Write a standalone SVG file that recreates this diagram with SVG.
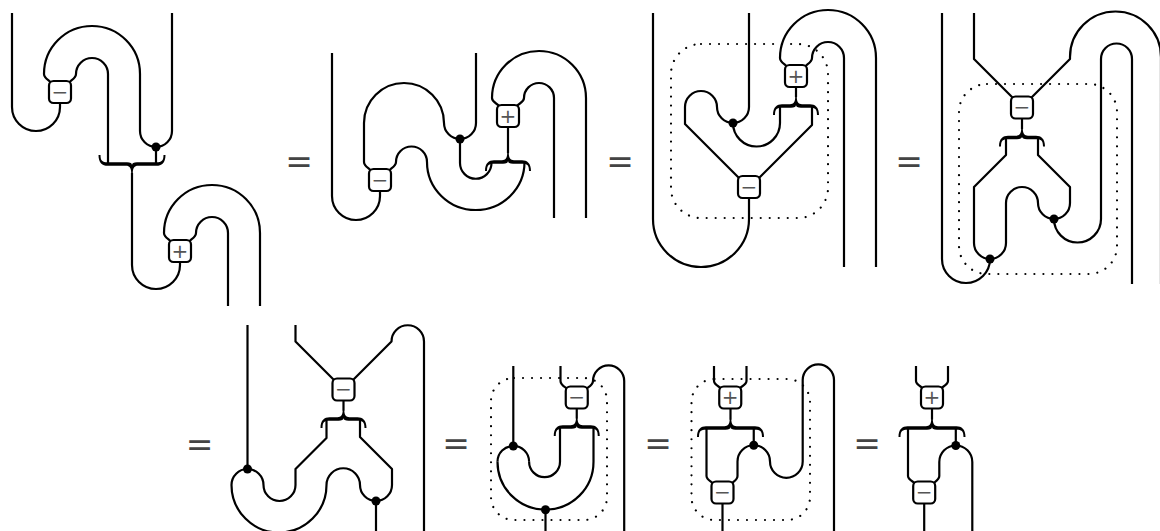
<svg xmlns="http://www.w3.org/2000/svg" xmlns:xlink="http://www.w3.org/1999/xlink" width="1160" height="531" viewBox="0 0 1160 531">
<style>
.w{fill:none;stroke:#000;stroke-width:2.2;stroke-linejoin:round}
.box{fill:#fff;stroke:#000;stroke-width:2.2}
.sym{font-family:"DejaVu Sans",sans-serif;font-size:20px;fill:#555;text-anchor:middle}
.eq{font-family:"DejaVu Sans",sans-serif;font-size:33px;fill:#444;text-anchor:middle}
.dot{fill:#000}
.br{fill:#000}
.frame{fill:none;stroke:#000;stroke-width:2.2;stroke-dasharray:0.01 9;stroke-linecap:round}
</style>
<defs>
<path id="braceW" class="br" d="M -33.5,9 C -33.5,1 -29.5,-1.8 -24.5,-1.8 L -6,-1.8 C -2.5,-1.8 -0.8,-4 -0.8,-9 L 0.8,-9 C 0.8,-4 2.5,-1.8 6,-1.8 L 24.5,-1.8 C 29.5,-1.8 33.5,1 33.5,9 L 31.5,9 C 31.5,3 29.5,1.8 24.5,1.8 L 5,1.8 Q 0,1.8 0,-1 Q 0,1.8 -5,1.8 L -24.5,1.8 C -29.5,1.8 -31.5,3 -31.5,9 Z"/>
<path id="braceN" class="br" d="M -23,9 C -23,1 -19,-1.8 -14,-1.8 L -6,-1.8 C -2.5,-1.8 -0.8,-4 -0.8,-9 L 0.8,-9 C 0.8,-4 2.5,-1.8 6,-1.8 L 14,-1.8 C 19,-1.8 23,1 23,9 L 21,9 C 21,3 19,1.8 14,1.8 L 5,1.8 Q 0,1.8 0,-1 Q 0,1.8 -5,1.8 L -14,1.8 C -19,1.8 -21,3 -21,9 Z"/>
</defs>
<rect width="1160" height="531" fill="#fff"/>

<g id="frames">
<rect class="frame" x="671" y="44" width="157" height="174" rx="30"/>
<rect class="frame" x="959" y="84" width="158" height="190" rx="28"/>
<rect class="frame" x="491" y="378" width="116" height="142" rx="23"/>
<rect class="frame" x="691.5" y="379" width="118.5" height="141" rx="23"/>
</g>

<g id="connectors">
<!-- diagram 1 -->
<path class="w" d="M 12 13 V 107 A 24 24 0 0 0 60 107 V 100"/>
<path class="w" d="M 53 85 C 50 80 44 79 44 74 A 48 48 0 0 1 140 74 V 131 A 16 16 0 0 0 172 131 V 13"/>
<path class="w" d="M 67 85 C 70 80 76 79 76 74 A 16 16 0 0 1 108 74 V 164"/>
<path class="w" d="M 156 147 V 164"/>
<path class="w" d="M 132 173 V 265 A 24 24 0 0 0 180 265 V 258"/>
<path class="w" d="M 173 244 C 170 239 164 238 164 233 A 48 48 0 0 1 260 233 V 306"/>
<path class="w" d="M 187 244 C 190 239 196 238 196 233 A 16 16 0 0 1 228 233 V 306"/>
<!-- diagram 2 -->
<path class="w" d="M 332 53 V 196 A 24 24 0 0 0 380 196 V 188"/>
<path class="w" d="M 373 173 C 370 168 364 167 364 162 V 123 A 40 40 0 0 1 444 123 A 16 16 0 0 0 476 123 V 53"/>
<path class="w" d="M 387 173 C 390 168 396 167 396 162 A 15.5 15.5 0 0 1 427 162 A 48.75 48 0 0 0 524.5 162"/>
<path class="w" d="M 460 139 V 163 A 15.75 15.75 0 0 0 491.5 163 V 162"/>
<path class="w" d="M 508 153 V 124"/>
<path class="w" d="M 501 108 C 498 103 492 103 492 98 A 47 47 0 0 1 586 98 V 218"/>
<path class="w" d="M 515 108 C 518 103 524 103 524 98 A 15 15 0 0 1 554 98 V 218"/>
<!-- diagram 3 -->
<path class="w" d="M 653 13 V 219 A 48 48 0 0 0 749 219 V 195"/>
<path class="w" d="M 743 182 L 685 124 V 107 A 16 16 0 0 1 717 107 A 16 16 0 0 0 749 107 V 13"/>
<path class="w" d="M 733 123 A 23.5 23.5 0 0 0 780 123 V 106"/>
<path class="w" d="M 755 182 L 812 125 V 106"/>
<path class="w" d="M 796 97 V 84"/>
<path class="w" d="M 789 69 C 786 64 780 63 780 58 A 48 48 0 0 1 876 58 V 267"/>
<path class="w" d="M 803 69 C 806 64 812 63 812 58 A 16 16 0 0 1 844 58 V 267"/>
<!-- diagram 4 -->
<path class="w" d="M 942 13 V 259 A 24 24 0 0 0 990 259"/>
<path class="w" d="M 1006 137.5 V 155 L 974 187 V 243 A 16 16 0 0 0 1006 243 V 203 A 16 16 0 0 1 1038 203 A 16 16 0 0 0 1070 203 V 187 L 1038 155 V 137.5"/>
<path class="w" d="M 1054 219 A 23.5 23.5 0 0 0 1101 219 V 59 A 15.5 15.5 0 0 1 1132 59 V 284"/>
<path class="w" d="M 1022 129 V 116"/>
<path class="w" d="M 1017 102 L 974 59 V 13"/>
<path class="w" d="M 1027 102 L 1070 59 V 57 A 45.5 45.5 0 0 1 1161 57 V 284"/>
<!-- diagram 5 -->
<path class="w" d="M 247.5 325 V 469"/>
<path class="w" d="M 231.5 485 A 16 16 0 0 1 263.5 485"/>
<path class="w" d="M 231.5 485 A 47.5 47.5 0 0 0 326.5 485 A 16.75 16.75 0 0 1 360 485 A 16 16 0 0 0 392 485 V 469 L 360 437 V 419"/>
<path class="w" d="M 263.5 485 A 16 16 0 0 0 295.5 485 V 469 L 326.5 438 V 419"/>
<path class="w" d="M 376 501 V 531"/>
<path class="w" d="M 343.5 410.5 V 398"/>
<path class="w" d="M 338 384 L 295.5 341.5 V 325"/>
<path class="w" d="M 349 384 L 391.5 341.5 A 16.25 16.25 0 0 1 424 341.5 V 531"/>
<!-- diagram 6 -->
<path class="w" d="M 513.3 366 V 446"/>
<path class="w" d="M 497.5 461.7 A 15.8 15.8 0 0 1 529.1 461.7"/>
<path class="w" d="M 497.5 461.7 A 48 48 0 0 0 593.5 461.7 V 427"/>
<path class="w" d="M 529.1 461.7 A 15.45 15.45 0 0 0 560 461.7 V 427"/>
<path class="w" d="M 545.5 509.7 V 531"/>
<path class="w" d="M 576.75 418.5 V 406"/>
<path class="w" d="M 570 391 C 566 387 560.5 386 560.5 381 V 366"/>
<path class="w" d="M 583.5 391 C 587.5 387 593 386 593 381 A 15.6 15.6 0 0 1 624.2 381 V 531"/>
<!-- diagram 7 -->
<path class="w" d="M 714 366 V 381 C 714 385 719 386 723 390"/>
<path class="w" d="M 746.5 366 V 381 C 746.5 385 741.5 386 737.5 390"/>
<path class="w" d="M 730.5 419.5 V 406"/>
<path class="w" d="M 706.5 428 V 476 C 706.5 480 711 481 715 485"/>
<path class="w" d="M 722.5 501 V 531"/>
<path class="w" d="M 730 485 C 734 481 737.5 480 737.5 476 V 461.5 A 16.25 16.25 0 0 1 770 461.5 A 16.35 16.35 0 0 0 802.7 461.5 V 380 A 15.65 15.65 0 0 1 834 380 V 531"/>
<path class="w" d="M 753.75 445.25 V 428"/>
<!-- diagram 8 -->
<path class="w" d="M 916 366 V 381 C 916 385 921 386 925 390"/>
<path class="w" d="M 948 366 V 381 C 948 385 943 386 939 390"/>
<path class="w" d="M 932 419.5 V 406"/>
<path class="w" d="M 908 428 V 476 C 908 480 913 481 917 485"/>
<path class="w" d="M 924.2 501 V 531"/>
<path class="w" d="M 931.5 485 C 935.5 481 939.3 480 939.3 476 V 462 A 16.5 16.5 0 0 1 972.3 462 V 531"/>
<path class="w" d="M 955.8 445.5 V 428"/>
<!-- braces -->
<use xlink:href="#braceW" href="#braceW" transform="translate(132,164) scale(1,-1)"/>
<use xlink:href="#braceN" href="#braceN" transform="translate(508,162)"/>
<use xlink:href="#braceN" href="#braceN" transform="translate(796,106)"/>
<use xlink:href="#braceN" href="#braceN" transform="translate(1022,137.5)"/>
<use xlink:href="#braceN" href="#braceN" transform="translate(343.5,419)"/>
<use xlink:href="#braceN" href="#braceN" transform="translate(576.75,427)"/>
<use xlink:href="#braceW" href="#braceW" transform="translate(730.5,428)"/>
<use xlink:href="#braceW" href="#braceW" transform="translate(932,428)"/>
</g>

<g id="m1"><rect class="box" x="49" y="81" width="22" height="22" rx="4.5"/><text class="sym" x="60" y="98.5">−</text></g>
<g id="p1"><rect class="box" x="169" y="240" width="22" height="22" rx="4.5"/><text class="sym" x="180" y="257.5">+</text></g>
<g id="d1"><circle class="dot" cx="156" cy="147" r="4.5"/></g>

<g id="m2"><rect class="box" x="369" y="169" width="22" height="22" rx="4.5"/><text class="sym" x="380" y="186.5">−</text></g>
<g id="p2"><rect class="box" x="497" y="105" width="22" height="22" rx="4.5"/><text class="sym" x="508" y="122.5">+</text></g>
<g id="d2"><circle class="dot" cx="460" cy="139" r="4.5"/></g>

<g id="m3"><rect class="box" x="738" y="176" width="22" height="22" rx="4.5"/><text class="sym" x="749" y="193.5">−</text></g>
<g id="p3"><rect class="box" x="785" y="65" width="22" height="22" rx="4.5"/><text class="sym" x="796" y="82.5">+</text></g>
<g id="d3"><circle class="dot" cx="733" cy="123" r="4.5"/></g>

<g id="m4"><rect class="box" x="1011" y="96.5" width="22" height="22" rx="4.5"/><text class="sym" x="1022" y="114">−</text></g>
<g id="d4a"><circle class="dot" cx="990" cy="259" r="4.5"/></g>
<g id="d4b"><circle class="dot" cx="1054" cy="219" r="4.5"/></g>

<g id="m5"><rect class="box" x="332.5" y="378.5" width="22" height="22" rx="4.5"/><text class="sym" x="343.5" y="396">−</text></g>
<g id="d5a"><circle class="dot" cx="247.5" cy="469" r="4.5"/></g>
<g id="d5b"><circle class="dot" cx="376" cy="501" r="4.5"/></g>

<g id="m6"><rect class="box" x="565.75" y="386.5" width="22" height="22" rx="4.5"/><text class="sym" x="576.75" y="404">−</text></g>
<g id="d6a"><circle class="dot" cx="513.3" cy="446" r="4.5"/></g>
<g id="d6b"><circle class="dot" cx="545.5" cy="509.7" r="4.5"/></g>

<g id="p7"><rect class="box" x="719.25" y="386.5" width="22" height="22" rx="4.5"/><text class="sym" x="730.25" y="404">+</text></g>
<g id="m7"><rect class="box" x="711.5" y="481.5" width="22" height="22" rx="4.5"/><text class="sym" x="722.5" y="499">−</text></g>
<g id="d7"><circle class="dot" cx="753.75" cy="445.25" r="4.5"/></g>

<g id="p8"><rect class="box" x="921" y="386.5" width="22" height="22" rx="4.5"/><text class="sym" x="932" y="404">+</text></g>
<g id="m8"><rect class="box" x="913.2" y="481.5" width="22" height="22" rx="4.5"/><text class="sym" x="924.2" y="499">−</text></g>
<g id="d8"><circle class="dot" cx="955.8" cy="445.5" r="4.5"/></g>

<g id="equals">
<text class="eq" x="299" y="173">=</text>
<text class="eq" x="620" y="173">=</text>
<text class="eq" x="909" y="173">=</text>
<text class="eq" x="199.5" y="456">=</text>
<text class="eq" x="456" y="455">=</text>
<text class="eq" x="658" y="455">=</text>
<text class="eq" x="867" y="455">=</text>
</g>
</svg>
